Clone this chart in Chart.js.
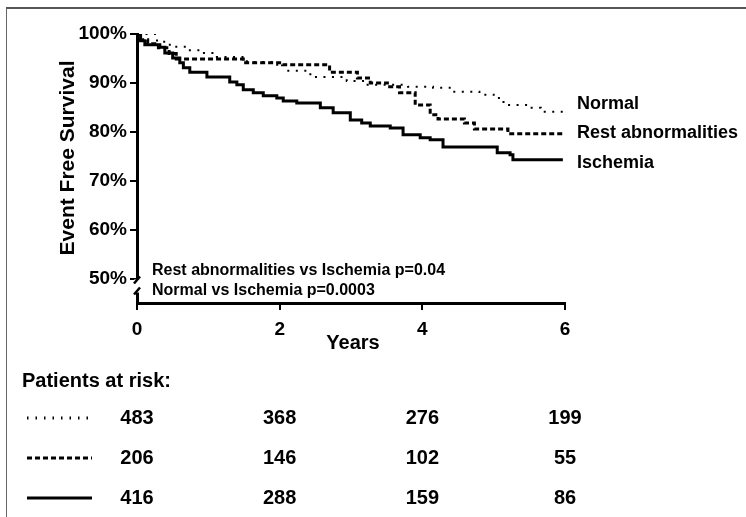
<!DOCTYPE html>
<html>
<head>
<meta charset="utf-8">
<title>Event free survival</title>
<script src="https://cdn.jsdelivr.net/npm/chart.js@4.4.1/dist/chart.umd.min.js"></script>
<style>
  html, body { margin: 0; padding: 0; background: #fff; }
  #wrap { position: relative; width: 746px; height: 517px; }
  #frame {
    position: absolute; left: 6px; top: 7px; right: 0; bottom: 0;
    border-top: 2px solid #555; border-left: 1px solid #666;
  }
  canvas { position: absolute; left: 0; top: 0; }
</style>
</head>
<body>
<div id="wrap">
  <div id="frame"></div>
  <canvas id="kmChart" width="746" height="517"></canvas>
</div>
<script>
// Kaplan-Meier steps: year of each drop and survival (%) after it
const normalYears = [0, 0.28, 0.46, 0.70, 0.88, 1.12, 1.54, 1.91, 2.10, 2.43, 2.94, 3.20, 3.80, 4.15, 4.40, 4.80, 5.00, 5.10, 5.20, 5.50, 5.66, 5.97];
const normalSurv = [100, 98.4, 97.4, 96.7, 96.1, 95.3, 94.3, 93.7, 92.5, 91.2, 90.4, 89.6, 89.2, 89.0, 88.2, 87.6, 86.9, 86.1, 85.5, 84.9, 84.1, 84.1];

const restYears = [0, 0.05, 0.15, 0.30, 0.45, 0.55, 1.49, 2.04, 2.70, 3.09, 3.27, 3.51, 3.68, 3.90, 4.11, 4.22, 4.59, 4.73, 5.20, 5.97];
const restSurv = [100, 98.8, 98.0, 97.2, 96.0, 94.9, 94.1, 93.7, 92.2, 91.0, 90.0, 89.2, 88.0, 85.5, 83.5, 82.6, 81.8, 80.6, 79.6, 79.6];

const ischYears = [0, 0.05, 0.11, 0.32, 0.39, 0.50, 0.60, 0.65, 0.74, 0.98, 1.30, 1.40, 1.49, 1.63, 1.77, 1.96, 2.05, 2.24, 2.57, 2.75, 2.99, 3.15, 3.27, 3.55, 3.73, 3.97, 4.11, 4.29, 5.05, 5.23, 5.27, 5.97];
const ischSurv = [100, 98.6, 97.8, 97.3, 96.1, 95.1, 94.1, 93.1, 92.2, 91.2, 90.2, 89.6, 88.6, 88.0, 87.4, 86.9, 86.3, 85.9, 84.9, 83.9, 82.4, 81.8, 81.2, 80.8, 79.4, 78.8, 78.4, 76.9, 75.7, 75.3, 74.3, 74.3];

const yTicks = [50, 60, 70, 80, 90, 100];
const xTicks = [0, 2, 4, 6];

const groupNames = ["Normal", "Rest abnormalities", "Ischemia"];
const pValues = ["Rest abnormalities vs Ischemia p=0.04", "Normal vs Ischemia p=0.0003"];

// patients at risk at years 0, 2, 4, 6
const riskYears = [0, 2, 4, 6];
const riskNormal = [483, 368, 276, 199];
const riskRest = [206, 146, 102, 55];
const riskIsch = [416, 288, 159, 86];

const FONT = '"Liberation Sans", Arial, Helvetica, sans-serif';

const lineStyles = [
  { width: 2, dash: [2, 6.5] },
  { width: 3, dash: [5, 3] },
  { width: 3, dash: [] },
];

function toPoints(xs, ys) {
  return xs.map((x, i) => ({ x: x, y: ys[i] }));
}

function boldFont(size) {
  return "bold " + size + "px " + FONT;
}

const extrasPlugin = {
  id: "kmExtras",
  afterDraw(chart) {
    const ctx = chart.ctx;
    const area = chart.chartArea;
    const xs = chart.scales.x;
    const ys = chart.scales.y;
    ctx.save();

    // broken axis marks below 50%
    const y50 = ys.getPixelForValue(50);
    const ax = area.left;
    ctx.fillStyle = "#fff";
    ctx.fillRect(ax - 3, y50 + 1, 7, 13);
    ctx.strokeStyle = "#000";
    ctx.lineWidth = 2.5;
    ctx.beginPath();
    ctx.moveTo(ax - 3, y50 + 5);
    ctx.lineTo(ax + 3, y50 - 2);
    ctx.moveTo(ax - 3, y50 + 16);
    ctx.lineTo(ax + 3, y50 + 9);
    ctx.stroke();

    ctx.fillStyle = "#000";
    ctx.textBaseline = "middle";

    // group names at curve ends
    ctx.font = boldFont(18);
    ctx.textAlign = "left";
    const labelY = [104, 133, 163];
    groupNames.forEach((name, i) => {
      ctx.fillText(name, area.right + 12, labelY[i]);
    });

    // p values
    ctx.font = boldFont(16);
    ctx.fillText(pValues[0], area.left + 15, 271);
    ctx.fillText(pValues[1], area.left + 15, 291);

    // axis titles
    ctx.font = boldFont(20);
    ctx.textAlign = "center";
    ctx.fillText("Years", 353, 343);
    ctx.save();
    ctx.translate(68, 158);
    ctx.rotate(-Math.PI / 2);
    ctx.font = boldFont(21);
    ctx.fillText("Event Free Survival", 0, 0);
    ctx.restore();

    // patients at risk table
    ctx.textAlign = "left";
    ctx.font = boldFont(20);
    ctx.fillText("Patients at risk:", 22, 381);

    const rows = [riskNormal, riskRest, riskIsch];
    const rowY = [418, 458, 498];
    rows.forEach((vals, r) => {
      const st = lineStyles[r];
      ctx.beginPath();
      ctx.setLineDash(r === 0 ? [1.5, 7] : st.dash);
      ctx.lineWidth = r === 0 ? 3 : st.width;
      ctx.moveTo(27, rowY[r]);
      ctx.lineTo(92, rowY[r]);
      ctx.stroke();
      ctx.setLineDash([]);

      ctx.font = boldFont(20);
      ctx.textAlign = "center";
      vals.forEach((v, i) => {
        ctx.fillText(String(v), xs.getPixelForValue(riskYears[i]), rowY[r]);
      });
    });

    ctx.restore();
  },
};

const ctx = document.getElementById("kmChart");

new Chart(ctx, {
  type: "line",
  data: {
    datasets: [
      { label: groupNames[0], data: toPoints(normalYears, normalSurv) },
      { label: groupNames[1], data: toPoints(restYears, restSurv) },
      { label: groupNames[2], data: toPoints(ischYears, ischSurv) },
    ].map((ds, i) => ({
      ...ds,
      stepped: true,
      borderColor: "#000",
      borderWidth: lineStyles[i].width,
      borderDash: lineStyles[i].dash,
      pointRadius: 0,
      fill: false,
    })),
  },
  options: {
    responsive: false,
    animation: false,
    events: [],
    layout: { padding: { top: 34, right: 181, bottom: 174, left: 0 } },
    plugins: {
      legend: { display: false },
      tooltip: { enabled: false },
    },
    scales: {
      x: {
        type: "linear",
        min: 0,
        max: 6,
        afterBuildTicks: (scale) => {
          scale.ticks = xTicks.map((v) => ({ value: v }));
        },
        afterFit: (scale) => {
          scale.height = 40;
        },
        ticks: {
          color: "#000",
          font: { family: FONT, size: 19, weight: "bold" },
          padding: 8,
          maxRotation: 0,
        },
        grid: {
          drawOnChartArea: false,
          color: "#000",
          lineWidth: 2,
          tickLength: 7,
        },
        border: { color: "#000", width: 3 },
      },
      y: {
        type: "linear",
        min: 45,
        max: 100,
        afterBuildTicks: (scale) => {
          scale.ticks = yTicks.map((v) => ({ value: v }));
        },
        afterFit: (scale) => {
          scale.width = 137;
        },
        ticks: {
          color: "#000",
          font: { family: FONT, size: 19, weight: "bold" },
          padding: 3,
          callback: (v) => v + "%",
        },
        grid: {
          drawOnChartArea: false,
          color: "#000",
          lineWidth: 2,
          tickLength: 7,
        },
        border: { color: "#000", width: 3 },
      },
    },
  },
  plugins: [extrasPlugin],
});
</script>
</body>
</html>
